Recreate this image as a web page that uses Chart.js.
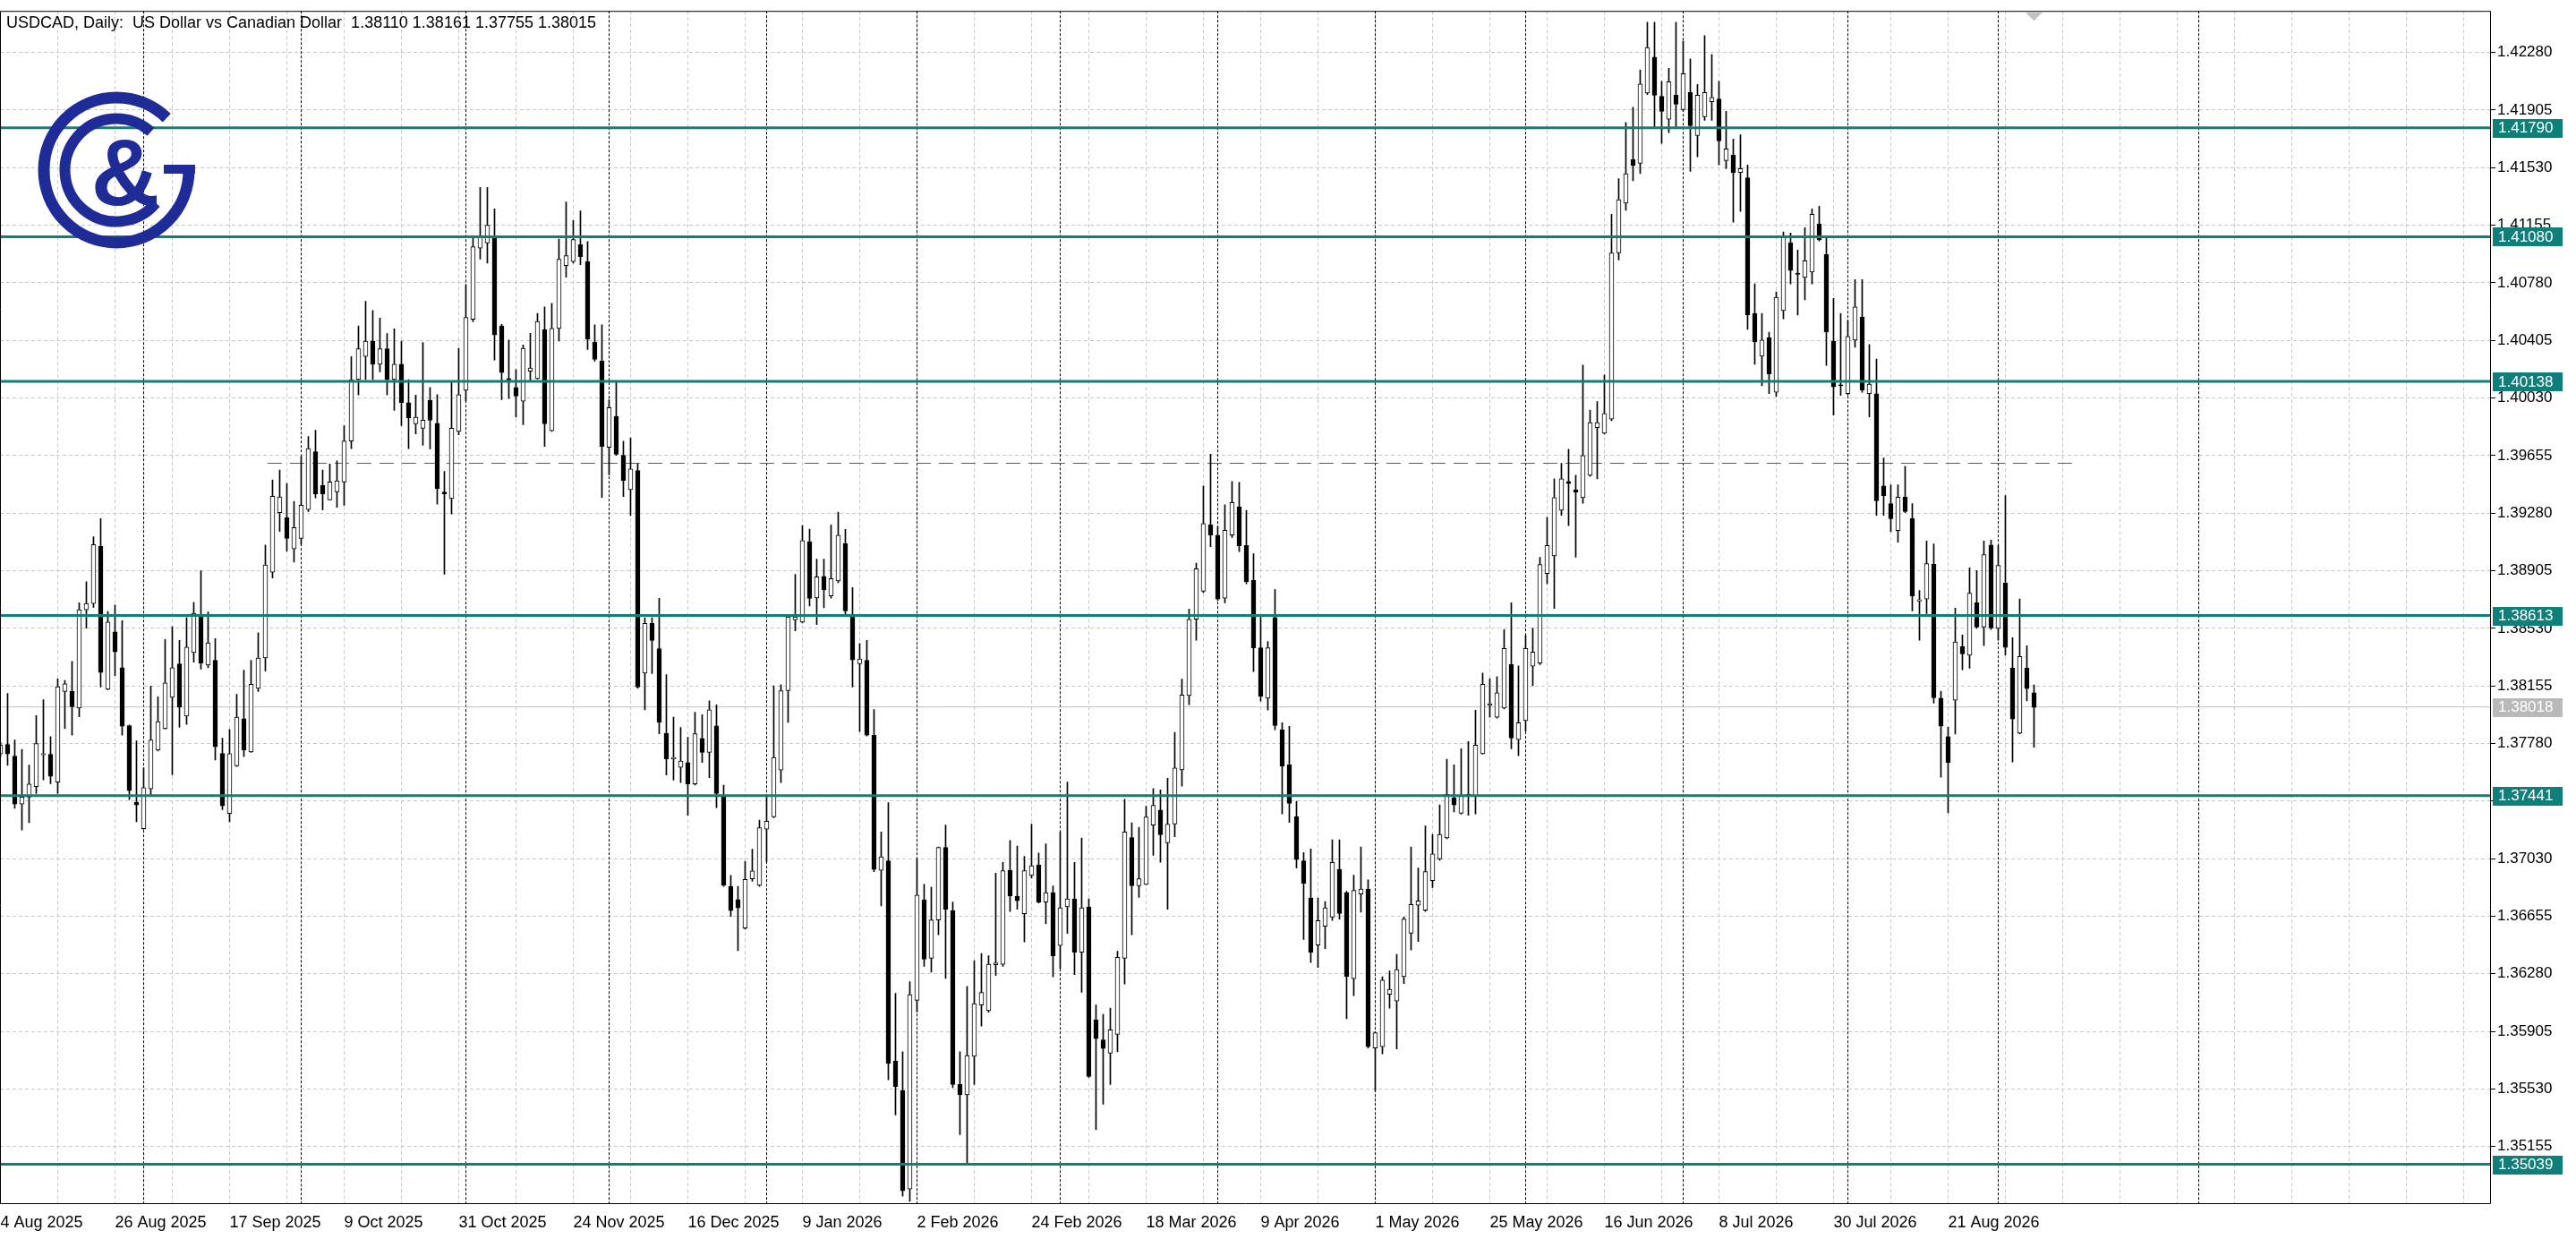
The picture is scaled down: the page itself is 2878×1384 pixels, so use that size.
<!DOCTYPE html>
<html lang="en">
<head>
<meta charset="UTF-8">
<title>USDCAD, Daily</title>
<script src="https://cdn.jsdelivr.net/npm/chart.js"></script>
<style>
  html, body { margin: 0; padding: 0; background: #fff; }
  canvas { display: block; }
</style>
</head>
<body>
<canvas id="chart" width="2878" height="1384"></canvas>
<script>
// daily bars, 4 Aug 2025 .. 31 Aug 2026 (weekdays, index 0..284)
const opens = [
  1.37712,1.37774,1.37698,1.37386,1.37431,1.37499,1.37706,1.37710,1.37528,1.38119,
  1.38121,1.38011,1.38651,1.38692,1.39064,1.38133,1.38507,1.38273,1.37896,1.37396,
  1.37225,1.37485,1.37737,1.37877,1.38081,1.38298,1.37958,1.38372,1.38608,1.38290,
  1.38321,1.37716,1.37324,1.37634,1.37941,1.37725,1.38139,1.38337,1.38895,1.39283,
  1.39250,1.39047,1.39116,1.39303,1.39680,1.39462,1.39367,1.39419,1.39483,1.39750,
  1.40150,1.40300,1.40400,1.40250,1.40350,1.40150,1.40250,1.40000,1.39862,1.39833,
  1.40016,1.39866,1.39418,1.39375,1.39813,1.40081,1.40542,1.41006,1.41039,1.41072,
  1.40500,1.40157,1.40098,1.40009,1.40205,1.40157,1.40474,1.39817,1.40483,1.40892,
  1.40918,1.41029,1.40918,1.40395,1.40271,1.39709,1.39911,1.39657,1.39434,1.39558,
  1.38238,1.38562,1.38398,1.37846,1.37679,1.37624,1.37656,1.37516,1.37813,1.37722,
  1.37895,1.37444,1.36849,1.36764,1.36578,1.36898,1.36856,1.37222,1.37303,1.37607,
  1.38124,1.38585,1.38571,1.39094,1.38728,1.38869,1.38741,1.38839,1.39082,1.38610,
  1.38300,1.38321,1.37834,1.36954,1.37015,1.35711,1.35520,1.34879,1.36107,1.36762,
  1.36381,1.36631,1.37103,1.36692,1.35559,1.35492,1.35742,1.36077,1.36040,1.36339,
  1.36342,1.36954,1.36786,1.36671,1.36920,1.36990,1.36747,1.36808,1.36464,1.36716,
  1.36768,1.36421,1.36716,1.35979,1.35849,1.35763,1.35885,1.36381,1.37167,1.36853,
  1.36862,1.37249,1.37347,1.37133,1.37255,1.37609,1.38093,1.38589,1.38772,1.39204,
  1.39137,1.38726,1.39137,1.39320,1.39070,1.38842,1.38403,1.38075,1.38600,1.37869,
  1.37641,1.37303,1.37015,1.36773,1.36467,1.36590,1.36650,1.36960,1.36809,1.36248,
  1.36800,1.36832,1.35796,1.35805,1.36147,1.36102,1.36261,1.36545,1.36727,1.36695,
  1.36887,1.37029,1.37166,1.37426,1.37326,1.37435,1.37435,1.37714,1.38029,1.37951,
  1.38011,1.38294,1.37805,1.37929,1.38284,1.38303,1.38887,1.39002,1.39299,1.39486,
  1.39431,1.39381,1.39527,1.39837,1.39801,1.39892,1.40975,1.41299,1.41582,1.41559,
  1.42016,1.42250,1.41995,1.41845,1.42002,1.41908,1.42020,1.41740,1.41862,1.41960,
  1.41978,1.41576,1.41611,1.41499,1.41464,1.40581,1.40302,1.40424,1.40068,1.40599,
  1.41042,1.40843,1.40815,1.40850,1.41164,1.40965,1.40400,1.40114,1.40058,1.40407,
  1.40557,1.40058,1.40058,1.39457,1.39342,1.39167,1.39384,1.39244,1.38707,1.38721,
  1.38947,1.38075,1.37824,1.38061,1.38410,1.38354,1.38696,1.38539,1.39073,1.38529,
  1.38825,1.38270,1.37848,1.38270,1.38110
];
const highs = [
  1.37790,1.38106,1.37803,1.37741,1.37640,1.37962,1.38065,1.37824,1.38201,1.38191,
  1.38315,1.38697,1.38833,1.39126,1.39245,1.38639,1.38682,1.38579,1.37900,1.37797,
  1.37621,1.38154,1.38084,1.38457,1.38540,1.38451,1.38600,1.38699,1.38905,1.38637,
  1.38463,1.37815,1.37871,1.38100,1.38257,1.38321,1.38501,1.39072,1.39497,1.39560,
  1.39473,1.39357,1.39650,1.39780,1.39820,1.39560,1.39600,1.39620,1.39850,1.40300,
  1.40500,1.40660,1.40600,1.40550,1.40450,1.40480,1.40400,1.40150,1.40049,1.40392,
  1.40098,1.40052,1.39552,1.40130,1.40353,1.40768,1.41072,1.41402,1.41402,1.41261,
  1.40510,1.40408,1.40215,1.40375,1.40451,1.40581,1.40624,1.40647,1.41065,1.41307,
  1.41186,1.41248,1.41049,1.40506,1.40506,1.40019,1.40130,1.39748,1.39771,1.39601,
  1.38598,1.38598,1.38725,1.38228,1.37951,1.37885,1.37820,1.37983,1.37967,1.38058,
  1.38032,1.37509,1.36921,1.36849,1.37013,1.37091,1.37281,1.37444,1.38156,1.38163,
  1.38610,1.38882,1.39199,1.39176,1.38980,1.38980,1.39204,1.39286,1.39174,1.38796,
  1.38431,1.38452,1.38001,1.37204,1.37395,1.36153,1.35772,1.36229,1.37027,1.36862,
  1.36844,1.37106,1.37249,1.36747,1.35772,1.36198,1.36366,1.36412,1.36397,1.36936,
  1.37006,1.37149,1.37112,1.37045,1.37255,1.37067,1.37127,1.36853,1.37204,1.37529,
  1.37006,1.37164,1.36768,1.36077,1.36016,1.36056,1.36427,1.37417,1.37264,1.37234,
  1.37371,1.37487,1.37478,1.37554,1.37852,1.38199,1.38656,1.38954,1.39457,1.39664,
  1.39192,1.39335,1.39487,1.39481,1.39299,1.39015,1.38604,1.38444,1.38782,1.37915,
  1.37892,1.37403,1.37070,1.37093,1.36773,1.36750,1.37152,1.37152,1.36818,1.36923,
  1.37106,1.36892,1.35900,1.36261,1.36298,1.36407,1.36650,1.37106,1.36969,1.37243,
  1.37188,1.37380,1.37677,1.37641,1.37746,1.37792,1.37997,1.38239,1.38202,1.38216,
  1.38522,1.38696,1.38285,1.38485,1.38531,1.38992,1.39253,1.39504,1.39604,1.39696,
  1.39527,1.40244,1.39951,1.40006,1.40180,1.41226,1.41459,1.41824,1.41924,1.42167,
  1.42477,1.42477,1.42093,1.42177,1.42477,1.42355,1.42239,1.42072,1.42390,1.42267,
  1.42093,1.41897,1.41716,1.41744,1.41548,1.40773,1.40581,1.40459,1.40721,1.41112,
  1.41105,1.40993,1.41140,1.41262,1.41279,1.41087,1.40679,1.40581,1.40536,1.40801,
  1.40801,1.40379,1.40284,1.39639,1.39464,1.39464,1.39586,1.39342,1.38777,1.39098,
  1.39080,1.38120,1.37886,1.38661,1.38487,1.38923,1.38906,1.39098,1.39105,1.39070,
  1.39394,1.38469,1.38721,1.38417,1.38161
];
const lows = [
  1.37692,1.37638,1.37357,1.37217,1.37264,1.37454,1.37543,1.37518,1.37454,1.37877,
  1.37834,1.37954,1.38531,1.38666,1.38148,1.38129,1.38222,1.37834,1.37415,1.37270,
  1.37221,1.37438,1.37731,1.37873,1.37576,1.37885,1.37904,1.38309,1.38265,1.38273,
  1.37673,1.37349,1.37270,1.37630,1.37694,1.37722,1.38119,1.38251,1.38857,1.39161,
  1.39033,1.38961,1.39076,1.39290,1.39380,1.39300,1.39367,1.39318,1.39332,1.39700,
  1.40050,1.40150,1.40150,1.40200,1.40050,1.39950,1.39850,1.39700,1.39797,1.39722,
  1.39699,1.39339,1.38882,1.39274,1.39790,1.40009,1.40526,1.40934,1.40908,1.40277,
  1.40019,1.40026,1.39905,1.39856,1.40140,1.40153,1.39715,1.39813,1.40401,1.40817,
  1.40908,1.40898,1.40346,1.40270,1.39382,1.39529,1.39657,1.39388,1.39264,1.38140,
  1.37999,1.38235,1.37843,1.37575,1.37542,1.37526,1.37313,1.37509,1.37656,1.37558,
  1.37362,1.36849,1.36653,1.36431,1.36571,1.36882,1.36849,1.37009,1.37297,1.37526,
  1.37918,1.38513,1.38565,1.38676,1.38555,1.38663,1.38726,1.38827,1.38613,1.38147,
  1.37858,1.37828,1.36945,1.36722,1.35590,1.35361,1.34832,1.34798,1.36031,1.36329,
  1.36290,1.36534,1.36250,1.35538,1.35233,1.35042,1.35559,1.35940,1.36030,1.36269,
  1.36329,1.36686,1.36701,1.36488,1.36905,1.36741,1.36605,1.36260,1.36314,1.36543,
  1.36275,1.36159,1.35605,1.35264,1.35431,1.35559,1.35772,1.36214,1.36534,1.36777,
  1.36860,1.37051,1.37006,1.36701,1.37173,1.37502,1.38032,1.38452,1.38763,1.39061,
  1.38711,1.38696,1.39122,1.39030,1.38819,1.38248,1.38056,1.37997,1.37869,1.37321,
  1.37266,1.36969,1.36503,1.36353,1.36321,1.36444,1.36627,1.36636,1.35987,1.36138,
  1.36681,1.35796,1.35517,1.35759,1.36056,1.35791,1.36216,1.36435,1.36490,1.36686,
  1.36841,1.37020,1.37160,1.37335,1.37320,1.37312,1.37321,1.37710,1.37951,1.37945,
  1.38005,1.37746,1.37700,1.37860,1.38156,1.38294,1.38819,1.38659,1.39266,1.39198,
  1.38993,1.39344,1.39520,1.39504,1.39795,1.39883,1.40929,1.41253,1.41445,1.41491,
  1.42006,1.41786,1.41688,1.41758,1.41793,1.41900,1.41506,1.41601,1.41838,1.41838,
  1.41548,1.41524,1.41175,1.41245,1.40477,1.40250,1.40110,1.40058,1.40040,1.40546,
  1.40773,1.40571,1.40669,1.40773,1.41053,1.40243,1.39918,1.40047,1.40050,1.40361,
  1.40068,1.39907,1.39265,1.39265,1.39160,1.39091,1.39283,1.38644,1.38452,1.38626,
  1.38043,1.37561,1.37328,1.37841,1.38260,1.38270,1.38529,1.38417,1.38522,1.38452,
  1.38354,1.37659,1.37841,1.38057,1.37755
];
const closes = [
  1.37770,1.37712,1.37386,1.37431,1.37516,1.37780,1.37714,1.37566,1.38150,1.38168,
  1.38020,1.38651,1.38692,1.39076,1.38242,1.38571,1.38377,1.37892,1.37473,1.37380,
  1.37493,1.37803,1.37923,1.38174,1.38273,1.38016,1.38408,1.38628,1.38304,1.38436,
  1.37758,1.37374,1.37714,1.37952,1.37737,1.38166,1.38337,1.38942,1.39390,1.39386,
  1.39115,1.39186,1.39332,1.39700,1.39405,1.39405,1.39483,1.39490,1.39750,1.40150,
  1.40350,1.40400,1.40250,1.40350,1.40150,1.40250,1.40000,1.39900,1.39905,1.39885,
  1.39885,1.39441,1.39405,1.39833,1.40052,1.40555,1.41016,1.41078,1.41156,1.40441,
  1.40196,1.40147,1.40042,1.40353,1.40225,1.40529,1.39862,1.40483,1.40934,1.40957,
  1.41062,1.40951,1.40415,1.40281,1.39715,1.39967,1.39663,1.39493,1.39568,1.38147,
  1.38562,1.38451,1.37918,1.37679,1.37689,1.37666,1.37516,1.37843,1.37722,1.37999,
  1.37454,1.36856,1.36692,1.36709,1.36895,1.36950,1.37232,1.37274,1.37689,1.38124,
  1.38604,1.38604,1.39101,1.38725,1.38866,1.38781,1.38854,1.39137,1.38644,1.38324,
  1.38330,1.37834,1.36960,1.37042,1.35696,1.35544,1.34867,1.36144,1.36792,1.36375,
  1.36631,1.37103,1.36701,1.35559,1.35492,1.35748,1.36086,1.36159,1.36342,1.36351,
  1.36951,1.36786,1.36756,1.36951,1.36984,1.36747,1.36808,1.36396,1.36710,1.36768,
  1.36421,1.36710,1.35611,1.35858,1.35794,1.35915,1.36387,1.37204,1.36853,1.36899,
  1.37301,1.37377,1.37185,1.37255,1.37621,1.38096,1.38589,1.38918,1.39213,1.39137,
  1.38720,1.39168,1.39350,1.39067,1.38833,1.38403,1.38088,1.38403,1.37897,1.37632,
  1.37390,1.37024,1.36869,1.36421,1.36627,1.36709,1.37006,1.36672,1.36261,1.36823,
  1.36832,1.35805,1.35896,1.36239,1.36179,1.36307,1.36636,1.36732,1.36755,1.36946,
  1.37061,1.37188,1.37449,1.37380,1.37440,1.37449,1.37769,1.38166,1.38038,1.38111,
  1.38399,1.37815,1.37915,1.38399,1.38376,1.38946,1.39070,1.39381,1.39504,1.39472,
  1.39417,1.39655,1.39869,1.39869,1.39929,1.40975,1.41322,1.41491,1.41545,1.42075,
  1.42313,1.42002,1.41897,1.42089,1.41943,1.42142,1.41803,1.42002,1.42020,1.41988,
  1.41705,1.41653,1.41499,1.41524,1.40571,1.40396,1.40407,1.40187,1.40686,1.41087,
  1.40861,1.40836,1.40923,1.41227,1.41060,1.40459,1.40103,1.40110,1.40431,1.40623,
  1.40082,1.40120,1.39360,1.39394,1.39244,1.39384,1.39290,1.38741,1.38717,1.38951,
  1.38078,1.37893,1.37656,1.38441,1.38364,1.38759,1.38539,1.39010,1.38532,1.38940,
  1.38406,1.37939,1.38347,1.38138,1.38015
];

// time axis labels, one every 16 bars
const dateLabels = ['4 Aug 2025', '26 Aug 2025', '17 Sep 2025', '9 Oct 2025', '31 Oct 2025',
  '24 Nov 2025', '16 Dec 2025', '9 Jan 2026', '2 Feb 2026', '24 Feb 2026', '18 Mar 2026',
  '9 Apr 2026', '1 May 2026', '25 May 2026', '16 Jun 2026', '8 Jul 2026', '30 Jul 2026', '21 Aug 2026'];
// bar index of the first bar of each month (period separators)
const monthStarts = [20, 42, 65, 85, 107, 128, 148, 170, 192, 213, 235, 258, 279, 307];

const priceTicks = [1.42280, 1.41905, 1.41530, 1.41155, 1.40780, 1.40405, 1.40030, 1.39655, 1.39280, 1.38905,
  1.38530, 1.38155, 1.37780, 1.37405, 1.37030, 1.36655, 1.36280, 1.35905, 1.35530, 1.35155];
const levels = [1.41790, 1.41080, 1.40138, 1.38613, 1.37441, 1.35039];
const bidPrice = 1.38018;
const trendLevel = 1.39605;
const trendFrom = 37.3, trendTo = 290.2;

const title = 'USDCAD, Daily:  US Dollar vs Canadian Dollar  1.38110 1.38161 1.37755 1.38015';

const TEAL = '#107f7a';
const FONT = "'Liberation Sans', Arial, sans-serif";
const xMin = -0.06, xMax = 347.69;
const yMin = 1.34786, yMax = 1.42551;

const idx = opens.map((_, i) => i);
const bodies = idx.map(i => ({ x: i, y: [opens[i], closes[i]] }));
const wicks = idx.map(i => ({ x: i, y: [lows[i], highs[i]] }));
const gridBars = [];
for (let v = 0; v <= xMax; v += 8) gridBars.push(v);

Chart.defaults.font.family = FONT;

const mtDecor = {
  id: 'mtDecor',
  beforeDraw(chart) {
    const ctx = chart.ctx;
    ctx.save();
    ctx.fillStyle = '#fff';
    ctx.fillRect(0, 0, chart.width, chart.height);
    ctx.restore();
  },
  beforeDatasetsDraw(chart) {
    const { ctx, chartArea: a, scales: { x } } = chart;
    ctx.save();
    ctx.strokeStyle = '#000';
    ctx.lineWidth = 1;
    ctx.setLineDash([3, 2]);
    monthStarts.forEach(i => {
      const px = Math.round(x.getPixelForValue(i)) + 0.5;
      ctx.beginPath();
      ctx.moveTo(px, a.top);
      ctx.lineTo(px, a.bottom);
      ctx.stroke();
    });
    ctx.restore();
  },
  afterDraw(chart) {
    const { ctx, chartArea: a, scales: { x, y } } = chart;
    ctx.save();
    // frame
    ctx.strokeStyle = '#000';
    ctx.lineWidth = 1;
    ctx.beginPath();
    ctx.moveTo(a.left + 0.5, a.top + 0.5);
    ctx.lineTo(a.right + 0.5, a.top + 0.5);
    ctx.lineTo(a.right + 0.5, a.bottom + 0.5);
    ctx.lineTo(a.left + 0.5, a.bottom + 0.5);
    ctx.closePath();
    ctx.stroke();

    // chart shift marker
    const sx = x.getPixelForValue(opens.length - 1);
    ctx.fillStyle = '#c4c4c4';
    ctx.beginPath();
    ctx.moveTo(sx - 10, a.top + 1);
    ctx.lineTo(sx + 10, a.top + 1);
    ctx.lineTo(sx, a.top + 11);
    ctx.closePath();
    ctx.fill();

    // title
    ctx.fillStyle = '#000';
    ctx.font = '18px ' + FONT;
    ctx.textBaseline = 'middle';
    ctx.textAlign = 'left';
    ctx.fillText(title, 7, 26);

    // logo
    const D = Math.PI / 180, cx = 130, cy = 190;
    ctx.strokeStyle = '#1f2c98';
    ctx.fillStyle = '#1f2c98';
    ctx.lineWidth = 13;
    ctx.beginPath();
    ctx.arc(cx, cy, 81, 0, 314 * D);
    ctx.stroke();
    ctx.lineWidth = 12;
    ctx.beginPath();
    ctx.arc(cx, cy, 57.5, 40 * D, 312 * D);
    ctx.stroke();
    ctx.fillRect(183, 184, 35, 10);
    ctx.font = "bold 106px 'Liberation Sans', sans-serif";
    ctx.textAlign = 'center';
    ctx.textBaseline = 'alphabetic';
    ctx.fillText('&', 140, 229);

    // price labels of the levels
    ctx.font = '17px ' + FONT;
    ctx.textAlign = 'left';
    ctx.textBaseline = 'middle';
    const tag = (v, bg) => {
      const py = y.getPixelForValue(v);
      ctx.fillStyle = bg;
      ctx.fillRect(a.right + 3, Math.round(py) - 10, 78, 21);
      ctx.fillStyle = '#fff';
      ctx.fillText(v.toFixed(5), a.right + 9, py + 1);
    };
    levels.forEach(v => tag(v, TEAL));
    tag(bidPrice, '#b9b9b9');
    ctx.restore();
  }
};

new Chart(document.getElementById('chart'), {
  type: 'bar',
  data: {
    datasets: [
      ...levels.map(v => ({
        type: 'line',
        data: [{ x: xMin, y: v }, { x: xMax, y: v }],
        borderColor: TEAL,
        borderWidth: 3,
        pointRadius: 0,
        order: 0
      })),
      {
        label: 'body',
        data: bodies,
        backgroundColor: ctx => closes[ctx.dataIndex] >= opens[ctx.dataIndex] ? '#fff' : '#000',
        borderColor: '#000',
        borderWidth: 1,
        borderSkipped: false,
        barThickness: 5,
        maxBarThickness: 5,
        minBarLength: 1,
        grouped: false,
        order: 1
      },
      {
        label: 'wick',
        data: wicks,
        backgroundColor: '#000',
        borderWidth: 0,
        barThickness: 1,
        maxBarThickness: 1,
        grouped: false,
        order: 2
      },
      {
        type: 'line',
        data: [{ x: trendFrom, y: trendLevel }, { x: trendTo, y: trendLevel }],
        borderColor: '#3f6f3f',
        borderWidth: 1,
        borderDash: [16, 9],
        pointRadius: 0,
        order: 3
      },
      {
        type: 'line',
        data: [{ x: xMin, y: bidPrice }, { x: xMax, y: bidPrice }],
        borderColor: '#c0c0c0',
        borderWidth: 1,
        pointRadius: 0,
        order: 4
      }
    ]
  },
  options: {
    responsive: false,
    animation: false,
    devicePixelRatio: 1,
    layout: { padding: { top: 10, left: 0, right: 0, bottom: 0 } },
    plugins: { legend: { display: false }, tooltip: { enabled: false } },
    scales: {
      x: {
        type: 'linear',
        min: xMin,
        max: xMax,
        offset: false,
        afterBuildTicks: s => { s.ticks = gridBars.map(v => ({ value: v })); },
        afterFit: s => { s.height = 40; s.paddingLeft = 0; s.paddingRight = 0; },
        ticks: {
          autoSkip: false,
          maxRotation: 0,
          minRotation: 0,
          align: 'start',
          padding: 11,
          color: '#000',
          font: { size: 18 },
          callback: v => (v % 16 === 0 && dateLabels[v / 16]) || ''
        },
        grid: { color: '#c8c8c8', drawTicks: false, offset: false },
        border: { display: false, dash: [4, 3] }
      },
      y: {
        type: 'linear',
        position: 'right',
        min: yMin,
        max: yMax,
        afterBuildTicks: s => { s.ticks = priceTicks.map(v => ({ value: v })); },
        afterFit: s => { s.width = 96; },
        ticks: {
          padding: 2,
          color: '#000',
          font: { size: 17 },
          callback: v => v.toFixed(5)
        },
        grid: { color: '#c8c8c8', tickColor: '#000', tickLength: 6 },
        border: { display: false, dash: [4, 3] }
      }
    }
  },
  plugins: [mtDecor]
});
</script>
</body>
</html>
